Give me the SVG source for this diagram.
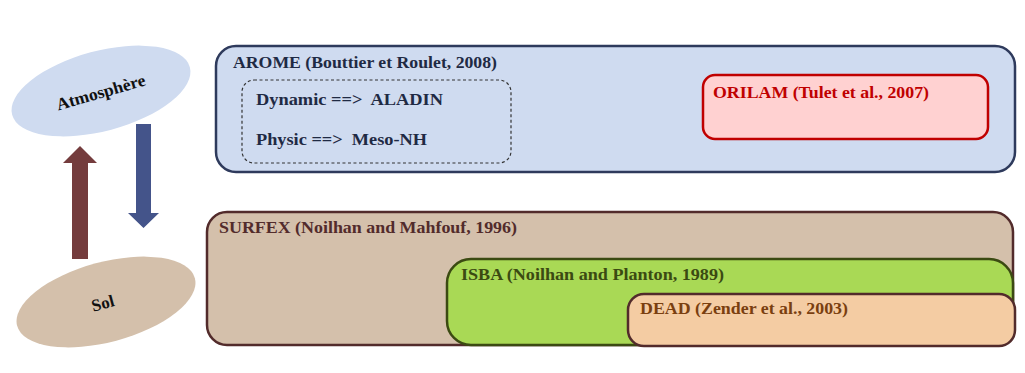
<svg xmlns="http://www.w3.org/2000/svg" width="1025" height="373" viewBox="0 0 1025 373">
  <defs>
    <style>
      text { font-family: "Liberation Serif", "DejaVu Serif", serif; font-weight: bold; font-size: 17px; }
      .navy { fill: #1f2a44; }
      .box-arome { fill: #cfdbf0; stroke: #2e3a5c; stroke-width: 2.5; }
      .box-dash { fill: none; stroke: #333; stroke-width: 1.2; stroke-dasharray: 3 2.5; }
      .box-orilam { fill: #ffd1d1; stroke: #c00000; stroke-width: 2.5; }
      .box-surfex { fill: #d4c0ab; stroke: #522b2b; stroke-width: 2.5; }
      .box-isba { fill: #a9d955; stroke: #3b4a12; stroke-width: 2.5; }
      .box-dead { fill: #f4cca3; stroke: #522b2b; stroke-width: 2.5; }
    </style>
  </defs>

  <!-- Atmosphere / soil ellipses -->
  <g id="atmosphere">
    <ellipse cx="101" cy="91" rx="92" ry="40" transform="rotate(-15 101 91)" fill="#cfdbf0"/>
    <text x="101" y="98" text-anchor="middle" font-size="15" fill="#111" textLength="92" lengthAdjust="spacingAndGlyphs" transform="rotate(-16 101 93)">Atmosphère</text>
  </g>
  <g id="sol">
    <ellipse cx="106" cy="302" rx="92" ry="40" transform="rotate(-15 106 302)" fill="#d4c0ab"/>
    <text x="103" y="309" text-anchor="middle" font-size="15" fill="#111" transform="rotate(-15 103 304)">Sol</text>
  </g>

  <!-- Exchange arrows -->
  <g id="connectors">
    <polygon points="72,259 88,259 88,163 97,163 80,146 63,163 72,163" fill="#743c3d"/>
    <polygon points="136,124 151,124 151,213 159,213 143.5,228 128,213 136,213" fill="#44548a"/>
  </g>

  <!-- AROME model -->
  <g id="arome">
    <rect x="216" y="46" width="799" height="126" rx="20" class="box-arome"/>
    <text x="233" y="68" class="navy" textLength="264" lengthAdjust="spacingAndGlyphs">AROME (Bouttier et Roulet, 2008)</text>
  </g>
  <g id="arome-components">
    <rect x="242" y="80" width="269" height="83" rx="12" class="box-dash"/>
    <text x="256" y="105" class="navy" xml:space="preserve" textLength="187" lengthAdjust="spacingAndGlyphs">Dynamic ==&gt;  ALADIN</text>
    <text x="256" y="145" class="navy" xml:space="preserve" textLength="171" lengthAdjust="spacingAndGlyphs">Physic ==&gt;  Meso-NH</text>
  </g>
  <g id="orilam">
    <rect x="703" y="75" width="285" height="64" rx="12" class="box-orilam"/>
    <text x="713" y="98" fill="#c00000" textLength="216" lengthAdjust="spacingAndGlyphs">ORILAM (Tulet et al., 2007)</text>
  </g>

  <!-- SURFEX surface model -->
  <g id="surfex">
    <rect x="207" y="212" width="806" height="133" rx="20" class="box-surfex"/>
    <text x="219" y="233" fill="#522b2b" textLength="298" lengthAdjust="spacingAndGlyphs">SURFEX (Noilhan and Mahfouf, 1996)</text>
  </g>
  <g id="isba">
    <rect x="447" y="259" width="566" height="86" rx="24" class="box-isba"/>
    <text x="461" y="280" fill="#3b4a12" textLength="263" lengthAdjust="spacingAndGlyphs">ISBA (Noilhan and Planton, 1989)</text>
  </g>
  <g id="dead">
    <rect x="628" y="294" width="387" height="52" rx="16" class="box-dead"/>
    <text x="640" y="314" fill="#7a3f10" textLength="208" lengthAdjust="spacingAndGlyphs">DEAD (Zender et al., 2003)</text>
  </g>
</svg>
